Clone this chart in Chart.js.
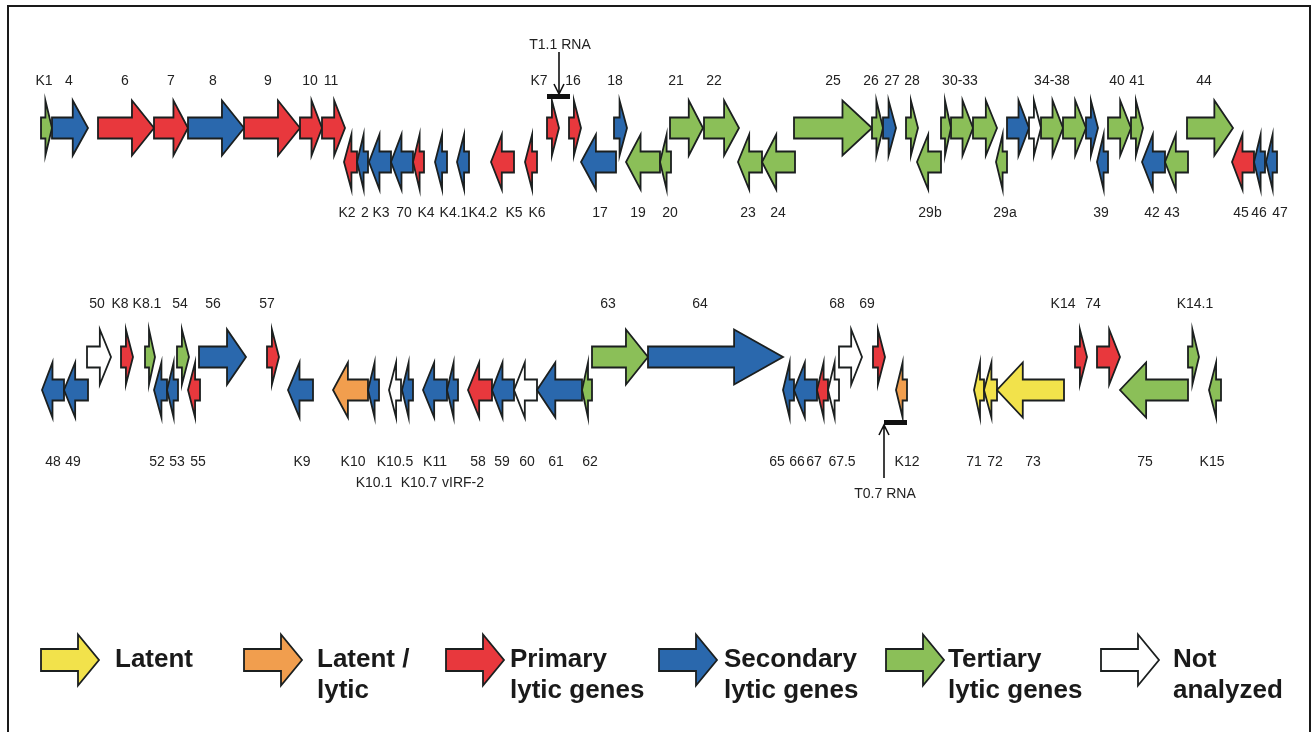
<!DOCTYPE html>
<html>
<head>
<meta charset="utf-8">
<script src="https://cdn.jsdelivr.net/npm/chart.js@4"></script>
<style>
  html, body { margin: 0; padding: 0; background: #fff; }
  canvas { display: block; }
</style>
</head>
<body>
<canvas id="map" width="1316" height="732"></canvas>
<script>
// Gene classes (legend order)
const CLASS_KEYS = ["L", "LL", "P", "S", "T", "N"];
const CLASS_LABELS = [
  ["Latent"],
  ["Latent /", "lytic"],
  ["Primary", "lytic genes"],
  ["Secondary", "lytic genes"],
  ["Tertiary", "lytic genes"],
  ["Not", "analyzed"],
];
const CLASS_COLORS = ["#f2e24b", "#f19e4e", "#e8383d", "#2a68ad", "#8bbf58", "#ffffff"];

// Row 1 genes: start / end in map units, strand (1 = forward, -1 = reverse), class
const ROW1_GENES = ["K1", "4", "6", "7", "8", "9", "10", "11", "K2", "2", "K3", "70", "K4", "K4.1", "K4.2", "K5", "K6",
  "K7", "16", "17", "18", "19", "20", "21", "22", "23", "24", "25", "26", "27", "28", "29b", "30", "31-32", "33", "29a",
  "34", "35", "36", "37", "38", "39", "40", "41", "42", "43", "44", "45", "46", "47"];
const ROW1_START = [41, 52, 98, 154, 188, 244, 300, 322, 344, 357, 369, 391, 413, 435, 457, 491, 525,
  547, 569, 581, 614, 626, 660, 670, 704, 738, 762, 794, 872, 883, 906, 917, 941, 951, 973, 996,
  1007, 1029, 1041, 1063, 1086, 1097, 1108, 1131, 1142, 1165, 1187, 1232, 1254, 1266];
const ROW1_END = [52, 88, 154, 188, 244, 300, 322, 345, 357, 368, 391, 413, 424, 447, 469, 514, 537,
  559, 581, 616, 627, 660, 671, 703, 739, 762, 795, 872, 883, 896, 918, 941, 951, 973, 997, 1007,
  1029, 1041, 1063, 1086, 1098, 1108, 1131, 1143, 1165, 1188, 1233, 1254, 1265, 1277];
const ROW1_STRAND = [1, 1, 1, 1, 1, 1, 1, 1, -1, -1, -1, -1, -1, -1, -1, -1, -1,
  1, 1, -1, 1, -1, -1, 1, 1, -1, -1, 1, 1, 1, 1, -1, 1, 1, 1, -1,
  1, 1, 1, 1, 1, -1, 1, 1, -1, -1, 1, -1, -1, -1];
const ROW1_CLASS = ["T", "S", "P", "P", "S", "P", "P", "P", "P", "S", "S", "S", "P", "S", "S", "P", "P",
  "P", "P", "S", "S", "T", "T", "T", "T", "T", "T", "T", "T", "S", "T", "T", "T", "T", "T", "T",
  "S", "N", "T", "T", "S", "S", "T", "T", "S", "T", "T", "P", "S", "S"];

// Row 2 genes
const ROW2_GENES = ["48", "49", "50", "K8", "K8.1", "52", "53", "54", "55", "56", "57", "K9", "K10", "K10.1", "K10.5",
  "K10.7", "K11", "vIRF-2", "58", "59", "60", "61", "62", "63", "64", "65", "66", "67", "67.5", "68", "69", "K12",
  "71", "72", "73", "K14", "74", "75", "K14.1", "K15"];
const ROW2_START = [42, 64, 87, 121, 145, 154, 167, 177, 188, 199, 267, 288, 333, 368, 389,
  402, 423, 447, 468, 492, 514, 537, 582, 592, 648, 783, 794, 817, 828, 839, 873, 896,
  974, 984, 997, 1075, 1097, 1120, 1188, 1209];
const ROW2_END = [64, 88, 111, 133, 155, 167, 178, 189, 200, 246, 279, 313, 368, 379, 401,
  413, 447, 458, 492, 514, 537, 582, 592, 648, 783, 794, 817, 828, 839, 862, 885, 907,
  984, 997, 1064, 1087, 1120, 1188, 1199, 1221];
const ROW2_STRAND = [-1, -1, 1, 1, 1, -1, -1, 1, -1, 1, 1, -1, -1, -1, -1,
  -1, -1, -1, -1, -1, -1, -1, -1, 1, 1, -1, -1, -1, -1, 1, 1, -1,
  -1, -1, -1, 1, 1, -1, 1, -1];
const ROW2_CLASS = ["S", "S", "N", "P", "T", "S", "S", "T", "P", "S", "P", "S", "LL", "S", "N",
  "S", "S", "S", "P", "S", "N", "S", "T", "T", "S", "S", "S", "P", "N", "N", "P", "LL",
  "L", "L", "L", "P", "P", "T", "T", "T"];

// Gene name labels: text and map position
const ROW1_TOP_LABELS = ["K1", "4", "6", "7", "8", "9", "10", "11", "K7", "16", "18", "21", "22", "25", "26", "27", "28",
  "30-33", "34-38", "40", "41", "44"];
const ROW1_TOP_AT = [44, 69, 125, 171, 213, 268, 310, 331, 539, 573, 615, 676, 714, 833, 871, 892, 912,
  960, 1052, 1117, 1137, 1204];
const ROW1_BOTTOM_LABELS = ["K2", "2", "K3", "70", "K4", "K4.1", "K4.2", "K5", "K6", "17", "19", "20", "23", "24",
  "29b", "29a", "39", "42", "43", "45", "46", "47"];
const ROW1_BOTTOM_AT = [347, 365, 381, 404, 426, 454, 483, 514, 537, 600, 638, 670, 748, 778,
  930, 1005, 1101, 1152, 1172, 1241, 1259, 1280];
const ROW2_TOP_LABELS = ["50", "K8", "K8.1", "54", "56", "57", "63", "64", "68", "69", "K14", "74", "K14.1"];
const ROW2_TOP_AT = [97, 120, 147, 180, 213, 267, 608, 700, 837, 867, 1063, 1093, 1195];
const ROW2_BOTTOM_LABELS = ["48", "49", "52", "53", "55", "K9", "K10", "K10.5", "K11", "58", "59", "60", "61", "62",
  "65", "66", "67", "67.5", "K12", "71", "72", "73", "75", "K15"];
const ROW2_BOTTOM_AT = [53, 73, 157, 177, 198, 302, 353, 395, 435, 478, 502, 527, 556, 590,
  777, 797, 814, 842, 907, 974, 995, 1033, 1145, 1212];
const ROW2_SECOND_LABELS = ["K10.1", "K10.7", "vIRF-2"];
const ROW2_SECOND_AT = [374, 419, 463];

// Transcripts marked with a bar and pointer
const RNA_NAMES = ["T1.1 RNA", "T0.7 RNA"];
const RNA_START = [547, 884];
const RNA_END = [570, 907];
const RNA_POINT = [559, 884];

// Layout of the two map rows (y values of the lanes)
const ROWS = [
  { top: 128, bottom: 162, labelTop: 81, labelBottom: 213 },
  { top: 357, bottom: 390, labelTop: 304, labelBottom: 462, labelSecond: 483 },
];
const SHAFT = 10.5;
const HEAD = 27.5;
const OUTLINE = "#1b1f1f";

function arrowPath(ctx, x0, x1, yc, dir, shaft, head, headLen) {
  const s = dir > 0 ? 1 : -1;
  const tail = s > 0 ? x0 : x1;
  const tip = s > 0 ? x1 : x0;
  const base = tip - s * headLen;
  ctx.beginPath();
  ctx.moveTo(tail, yc - shaft);
  ctx.lineTo(base, yc - shaft);
  ctx.lineTo(base, yc - head);
  ctx.lineTo(tip, yc);
  ctx.lineTo(base, yc + head);
  ctx.lineTo(base, yc + shaft);
  ctx.lineTo(tail, yc + shaft);
  ctx.closePath();
}

function drawGenes(chart, row, starts, ends, strands, classes) {
  const { ctx } = chart;
  const xs = chart.scales.x, ys = chart.scales.y;
  ctx.lineWidth = 1.8;
  ctx.lineJoin = "miter";
  ctx.strokeStyle = OUTLINE;
  starts.forEach((st, i) => {
    const x0 = xs.getPixelForValue(st);
    const x1 = xs.getPixelForValue(ends[i]);
    const lane = strands[i] > 0 ? row.top : row.bottom;
    const yc = ys.getPixelForValue(lane);
    const len = x1 - x0;
    const headLen = Math.min(0.6 * len, 3 + 0.34 * len);
    arrowPath(ctx, x0, x1, yc, strands[i], SHAFT, HEAD, headLen);
    ctx.fillStyle = CLASS_COLORS[CLASS_KEYS.indexOf(classes[i])];
    ctx.fill();
    ctx.stroke();
  });
}

function drawLabels(chart, texts, at, yVal) {
  const { ctx } = chart;
  const xs = chart.scales.x, ys = chart.scales.y;
  ctx.font = "14px 'Liberation Sans', Arial, sans-serif";
  ctx.fillStyle = "#222";
  ctx.textAlign = "center";
  ctx.textBaseline = "middle";
  texts.forEach((t, i) => ctx.fillText(t, xs.getPixelForValue(at[i]), ys.getPixelForValue(yVal)));
}

// Bar over a transcript plus a pointer and its name
function drawRna(chart, i, barY, fromY, textY) {
  const { ctx } = chart;
  const xs = chart.scales.x, ys = chart.scales.y;
  const x0 = xs.getPixelForValue(RNA_START[i]);
  const x1 = xs.getPixelForValue(RNA_END[i]);
  const px = xs.getPixelForValue(RNA_POINT[i]);
  const by = ys.getPixelForValue(barY);
  const fy = ys.getPixelForValue(fromY);
  ctx.fillStyle = "#111";
  ctx.fillRect(x0, by - 2.5, x1 - x0, 5);
  const dir = by > fy ? 1 : -1;
  const end = by - dir * 2.5;
  ctx.strokeStyle = "#111";
  ctx.lineWidth = 1.6;
  ctx.beginPath();
  ctx.moveTo(px, fy);
  ctx.lineTo(px, end);
  ctx.moveTo(px - 5, end - dir * 10);
  ctx.lineTo(px, end);
  ctx.lineTo(px + 5, end - dir * 10);
  ctx.stroke();
  ctx.font = "14px 'Liberation Sans', Arial, sans-serif";
  ctx.fillStyle = "#222";
  ctx.textAlign = "center";
  ctx.textBaseline = "middle";
  ctx.fillText(RNA_NAMES[i], px + 1, ys.getPixelForValue(textY));
}

// Legend arrows with their class names
const LEGEND_X = [41, 244, 446, 659, 886, 1101];
const LEGEND_TEXT_X = [115, 317, 510, 724, 948, 1173];
function drawLegend(chart) {
  const { ctx } = chart;
  const yc = 660;
  CLASS_KEYS.forEach((k, i) => {
    const x0 = LEGEND_X[i];
    ctx.lineWidth = 1.8;
    ctx.strokeStyle = OUTLINE;
    arrowPath(ctx, x0, x0 + 58, yc, 1, 11, 25.5, 21);
    ctx.fillStyle = CLASS_COLORS[i];
    ctx.fill();
    ctx.stroke();
    ctx.font = "bold 26px 'Liberation Sans', Arial, sans-serif";
    ctx.fillStyle = "#1a1a1a";
    ctx.textAlign = "left";
    ctx.textBaseline = "middle";
    CLASS_LABELS[i].forEach((line, j) => ctx.fillText(line, LEGEND_TEXT_X[i], 660 + j * 31));
  });
}

const genomeMap = {
  id: "genomeMap",
  afterDraw(chart) {
    const { ctx } = chart;
    ctx.save();
    // frame
    ctx.strokeStyle = "#1a1a1a";
    ctx.lineWidth = 2;
    ctx.strokeRect(8, 6, 1302, 740);

    drawGenes(chart, ROWS[0], ROW1_START, ROW1_END, ROW1_STRAND, ROW1_CLASS);
    drawGenes(chart, ROWS[1], ROW2_START, ROW2_END, ROW2_STRAND, ROW2_CLASS);

    drawLabels(chart, ROW1_TOP_LABELS, ROW1_TOP_AT, ROWS[0].labelTop);
    drawLabels(chart, ROW1_BOTTOM_LABELS, ROW1_BOTTOM_AT, ROWS[0].labelBottom);
    drawLabels(chart, ROW2_TOP_LABELS, ROW2_TOP_AT, ROWS[1].labelTop);
    drawLabels(chart, ROW2_BOTTOM_LABELS, ROW2_BOTTOM_AT, ROWS[1].labelBottom);
    drawLabels(chart, ROW2_SECOND_LABELS, ROW2_SECOND_AT, ROWS[1].labelSecond);

    drawRna(chart, 0, 96.5, 52, 45);
    drawRna(chart, 1, 422.5, 478, 494);

    drawLegend(chart);
    ctx.restore();
  },
};

new Chart(document.getElementById("map"), {
  type: "scatter",
  data: { datasets: [{ data: [], pointRadius: 0 }] },
  options: {
    responsive: false,
    animation: false,
    devicePixelRatio: 1,
    layout: { padding: 0 },
    plugins: { legend: { display: false }, tooltip: { enabled: false } },
    scales: {
      x: { type: "linear", min: 0, max: 1316, display: false },
      y: { type: "linear", min: 0, max: 732, reverse: true, display: false },
    },
  },
  plugins: [genomeMap],
});
</script>
</body>
</html>
